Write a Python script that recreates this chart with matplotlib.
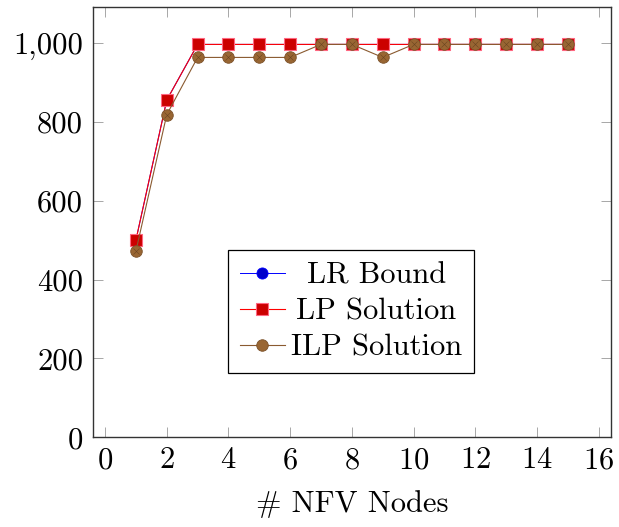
import matplotlib
matplotlib.use("Agg")
import matplotlib.pyplot as plt
from matplotlib.ticker import FuncFormatter, MultipleLocator

nodes = list(range(1, 16))
lr_bound = [500, 855, 996, 996, 996, 996, 996, 996, 996, 996, 996, 996, 996, 996, 996]
lp_solution = [500, 855, 996, 996, 996, 996, 996, 996, 996, 996, 996, 996, 996, 996, 996]
ilp_solution = [472, 818, 963, 963, 963, 963, 996, 996, 963, 996, 996, 996, 996, 996, 996]
series_labels = ["LR Bound", "LP Solution", "ILP Solution"]
x_label = "# NFV Nodes"

FS = 22
plt.rcParams['font.family'] = ['cmr10', 'DejaVu Serif']
plt.rcParams['axes.formatter.use_mathtext'] = True
plt.rcParams['font.size'] = FS

fig = plt.figure(figsize=(6.19, 5.27), dpi=100)
ax = fig.add_axes([0.1498, 0.1702, 0.9871 - 0.1498, 0.9861 - 0.1702])

ax.plot(nodes, lr_bound, color='#0000ff', lw=0.7, marker='o', ms=8,
        mfc='#0000cc', mec='#0000ff', mew=0.6, label=series_labels[0], zorder=3)
ax.plot(nodes, lp_solution, color='#ff0000', lw=0.8, marker='s', ms=8.3,
        mfc='#cc0000', mec='#ff6680', mew=0.8, label=series_labels[1], zorder=4)
ax.plot(nodes, ilp_solution, color='#8a5a30', lw=0.8, marker='o', ms=8.3,
        mfc='#996633', mec='#7a5028', mew=0.6, label=series_labels[2], zorder=5)
ax.plot(nodes, ilp_solution, ls='none', marker='x', ms=5.0, mec='#6a4520',
        mew=0.4, zorder=6)

ax.set_xlim(-0.4, 16.4)
ax.set_ylim(0, 1090)
ax.xaxis.set_major_locator(MultipleLocator(2))
ax.yaxis.set_major_locator(MultipleLocator(200))
ax.yaxis.set_major_formatter(FuncFormatter(lambda v, p: f"{int(v):,}"))

for s in ax.spines.values():
    s.set_linewidth(1.0)
    s.set_color('#333333')
ax.tick_params(direction='in', length=7.5, width=0.6, color='#999999',
               top=True, right=True, labelsize=FS, pad=7)
ax.set_xlabel(x_label, fontsize=FS, labelpad=11)

handles, labels = ax.get_legend_handles_labels()
leg = ax.legend(handles[:3], labels[:3], loc='center', bbox_to_anchor=(0.498, 0.2926),
                fontsize=FS, frameon=True, fancybox=False, shadow=False,
                edgecolor='black', framealpha=1, handlelength=1.47,
                handletextpad=0.2, borderpad=0.4, labelspacing=0.28,
                numpoints=1, borderaxespad=0)
leg.get_frame().set_linewidth(0.9)

fig.canvas.draw()
texts = leg.get_texts()
widths = [t.get_window_extent().width for t in texts]
wmax = max(widths)
for t, w in zip(texts, widths):
    t.set_x((wmax - w) / 2.0)

fig.savefig("out.png", dpi=100)
